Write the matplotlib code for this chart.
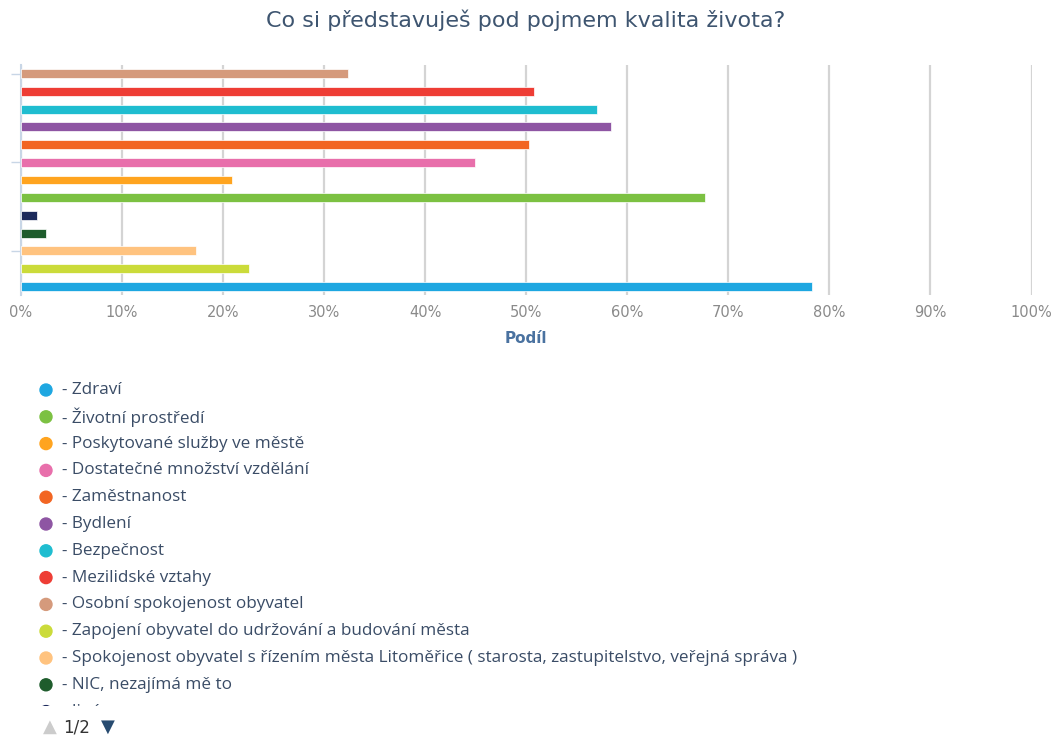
#!/usr/bin/env python3
"""
Horizontal bar chart: Co si představuješ pod pojmem kvalita života?
"""

import matplotlib
matplotlib.use('Agg')
import matplotlib.pyplot as plt
from matplotlib.patches import Rectangle, Ellipse

W, H = 1052, 736

# Series in legend order
labels = ['Zdraví', 'Životní prostředí', 'Poskytované služby ve městě',
          'Dostatečné množství vzdělání', 'Zaměstnanost', 'Bydlení',
          'Bezpečnost', 'Mezilidské vztahy', 'Osobní spokojenost obyvatel',
          'Zapojení obyvatel do udržování a budování města',
          'Spokojenost obyvatel s řízením města Litoměřice ( starosta, zastupitelstvo, veřejná správa )',
          'NIC, nezajímá mě to', 'Jiné']
values = [78.3, 67.7, 20.9, 44.9, 50.3, 58.4, 57.0, 50.8, 32.4, 22.6, 17.3, 2.5, 1.6]
colors_ = ['#1ea7e1', '#7cc142', '#ffa41f', '#e86fab', '#f26522', '#8e55a3',
           '#1fbdd0', '#ee3d35', '#d59a7c', '#cbdb3a', '#ffc37f', '#1e5c2c', '#1c2a5c']
# slot of each bar, counted from the bottom of the plot
bar_slot = [0, 5, 6, 7, 8, 9, 10, 11, 12, 1, 2, 3, 4]

x_ticks = list(range(0, 101, 10))
x_ticklabels = [f'{t}%' for t in x_ticks]

fig = plt.figure(figsize=(W / 100, H / 100), dpi=100)
ax = fig.add_axes([21 / W, 1 - 295 / H, 1010.5 / W, 230 / H])

for slot, val, col in zip(bar_slot, values, colors_):
    ax.barh(slot, val, height=0.5, color=col, edgecolor='white',
            linewidth=0.5, zorder=3)

ax.set_xlim(0, 100)
ax.set_ylim(-0.5, 12.5)
ax.set_xticks(x_ticks)
ax.set_xticklabels(x_ticklabels, color='#8a8a8a', fontsize=10.5)
ax.set_yticks([12, 7, 2])
ax.set_yticklabels([])
ax.tick_params(axis='y', length=7, color='#c8d6e6', width=1)
ax.tick_params(axis='x', length=0, pad=7)
ax.grid(axis='x', color='#d4d4d4', linewidth=1.6, zorder=0)
ax.set_axisbelow(True)
for side in ['top', 'right', 'bottom']:
    ax.spines[side].set_visible(False)
ax.spines['left'].set_color('#c8d6e6')
ax.spines['left'].set_linewidth(1.5)

ax.set_xlabel('Podíl', fontsize=11, weight='bold', color='#4a72a0', labelpad=8)

fig.text(0.5, 1 - 20 / H, 'Co si představuješ pod pojmem kvalita života?',
         ha='center', va='center', fontsize=16, color='#3e5570')

# Legend drawn by hand, one row per series
row0, row_step = 390, 26.8
for i, (lab, col) in enumerate(zip(labels, colors_)):
    yp = row0 + i * row_step
    fig.patches.append(Ellipse((46 / W, 1 - yp / H), 12 / W, 12 / H,
                               color=col, transform=fig.transFigure,
                               figure=fig, zorder=3))
    fig.text(62 / W, 1 - yp / H, '- ' + lab, ha='left', va='center',
             fontsize=12.35, color='#3a4c66', family=['Open Sans', 'DejaVu Sans'],
             zorder=3)

# legend is clipped at the bottom (page 1 of 2)
fig.patches.append(Rectangle((0, 0), 1, (H - 706) / H,
                             transform=fig.transFigure, facecolor='white',
                             edgecolor='none', zorder=10))
nav_y = 1 - 727 / H
fig.text(50 / W, nav_y, '▲', ha='center', va='center', fontsize=13,
         color='#cccccc', zorder=11)
fig.text(77 / W, nav_y, '1/2', ha='center', va='center', fontsize=12,
         color='#333333', zorder=11)
fig.text(108 / W, nav_y, '▼', ha='center', va='center', fontsize=13,
         color='#274b70', zorder=11)

plt.savefig('out.png', dpi=100)
